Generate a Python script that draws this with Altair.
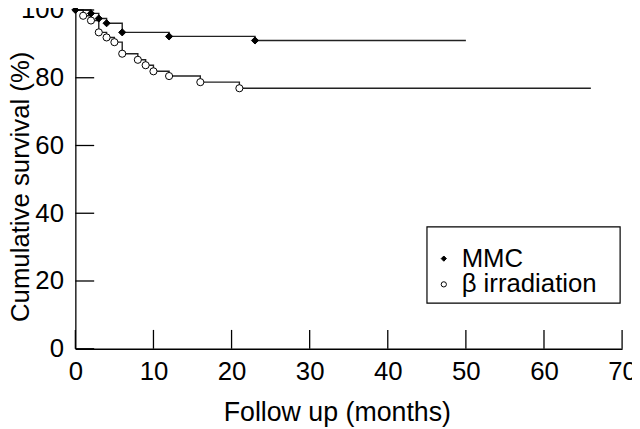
import altair as alt
import pandas as pd

# ---- data ----
series_names = ["MMC", "β irradiation"]

mmc_months = [0, 2, 3, 4, 6, 12, 23]
mmc_surv = [100, 99.0, 97.5, 96.1, 93.4, 92.2, 91.0]
mmc_end_month = 50

beta_months = [0, 1, 2, 3, 4, 5, 6, 8, 9, 10, 12, 16, 21]
beta_surv = [100, 98.3, 96.9, 93.4, 91.9, 90.5, 87.1, 85.3, 83.7, 81.9, 80.5, 78.7, 76.9]
beta_end_month = 66

x_ticks = [0, 10, 20, 30, 40, 50, 60, 70]
y_ticks = [0, 20, 40, 60, 80, 100]

# ---- tables ----
line_rows = []
for m, s in zip(mmc_months, mmc_surv):
    line_rows.append({"months": m, "surv": s, "series": series_names[0]})
line_rows.append({"months": mmc_end_month, "surv": mmc_surv[-1], "series": series_names[0]})
for m, s in zip(beta_months, beta_surv):
    line_rows.append({"months": m, "surv": s, "series": series_names[1]})
line_rows.append({"months": beta_end_month, "surv": beta_surv[-1], "series": series_names[1]})
line_df = pd.DataFrame(line_rows)

point_rows = []
for m, s in zip(beta_months[1:], beta_surv[1:]):
    point_rows.append({"months": m, "surv": s, "series": series_names[1]})
for m, s in zip(mmc_months, mmc_surv):
    point_rows.append({"months": m, "surv": s, "series": series_names[0]})
point_df = pd.DataFrame(point_rows)
point_df["order"] = range(len(point_df))

xt_df = pd.DataFrame({"tx": x_ticks})
yt_df = pd.DataFrame({"ty": y_ticks})

FONT = "Liberation Sans"
W, H = 552, 342
X_MAX, Y_MAX = 70, 100
TICK_PX = 19
tick_len_y = TICK_PX * Y_MAX / H   # tick length in survival units
tick_len_x = TICK_PX * X_MAX / W   # tick length in month units

x_scale = alt.Scale(domain=[0, X_MAX], nice=False, zero=False)
y_scale = alt.Scale(domain=[0, Y_MAX], nice=False, zero=False)

x_axis = alt.Axis(
    values=x_ticks, ticks=False, grid=False, domainColor="black", domainWidth=1.3,
    labelFont=FONT, labelFontSize=26, labelColor="black", labelPadding=10,
    labelFlush=False,
    title="Follow up (months)", titleFont=FONT, titleFontSize=27, titleFontWeight="normal",
    titleColor="black", titleX=264, titleY=72, titleBaseline="alphabetic", titleAnchor="middle",
    titleAlign="center",
)
y_axis = alt.Axis(
    values=y_ticks, ticks=False, grid=False, domainColor="black", domainWidth=1.3,
    labelFont=FONT, labelFontSize=26, labelColor="black", labelPadding=12,
    labelFlush=False,
    title="Cumulative survival (%)", titleFont=FONT, titleFontSize=26, titleFontWeight="normal",
    titleColor="black", titleX=-55, titleY=178, titleBaseline="middle", titleAlign="center",
    titleAngle=-90,
)

frame = alt.Chart(pd.DataFrame({"a": [0]})).mark_rect(
    fill="white", stroke="black", strokeWidth=1.2
).encode(
    x=alt.value(355), x2=alt.value(550), y=alt.value(219), y2=alt.value(296)
)

lines = alt.Chart(line_df).mark_line(
    interpolate="step-after", color="#222222", strokeWidth=1.4
).encode(
    x=alt.X("months:Q", scale=x_scale, axis=x_axis),
    y=alt.Y("surv:Q", scale=y_scale, axis=y_axis),
    detail="series:N",
)

legend = alt.Legend(title=None)
points = alt.Chart(point_df).mark_point(
    filled=True, strokeWidth=1, size=52, opacity=1
).encode(
    x=alt.X("months:Q", scale=x_scale),
    y=alt.Y("surv:Q", scale=y_scale),
    shape=alt.Shape("series:N", scale=alt.Scale(domain=series_names, range=["diamond", "circle"]),
                    legend=legend),
    fill=alt.Fill("series:N", scale=alt.Scale(domain=series_names, range=["black", "white"]),
                  legend=legend),
    stroke=alt.Stroke("series:N", scale=alt.Scale(domain=series_names, range=["black", "black"]),
                      legend=legend),
    order="order:Q",
)

xticks = alt.Chart(xt_df).mark_rule(color="black", strokeWidth=1.3).encode(
    x=alt.X("tx:Q", scale=x_scale),
    y=alt.datum(0),
    y2=alt.datum(tick_len_y),
)
yticks = alt.Chart(yt_df).mark_rule(color="black", strokeWidth=1.3).encode(
    y=alt.Y("ty:Q", scale=y_scale),
    x=alt.datum(0),
    x2=alt.datum(tick_len_x),
)

chart = alt.layer(frame, lines, xticks, yticks, points).properties(
    width=W, height=H,
    autosize=alt.AutoSizeParams(type="none"),
    padding={"left": 68, "top": 0, "right": 10, "bottom": 78},
).configure_view(stroke=None).configure_legend(
    orient="none", legendX=359, legendY=238, padding=0,
    labelFont=FONT, labelFontSize=26, labelColor="black", labelOffset=5,
    symbolSize=28, symbolStrokeWidth=1,
    rowPadding=0, fillColor=None, strokeColor=None,
)

chart.save("out.html", embed_options={"renderer": "svg", "actions": False})
